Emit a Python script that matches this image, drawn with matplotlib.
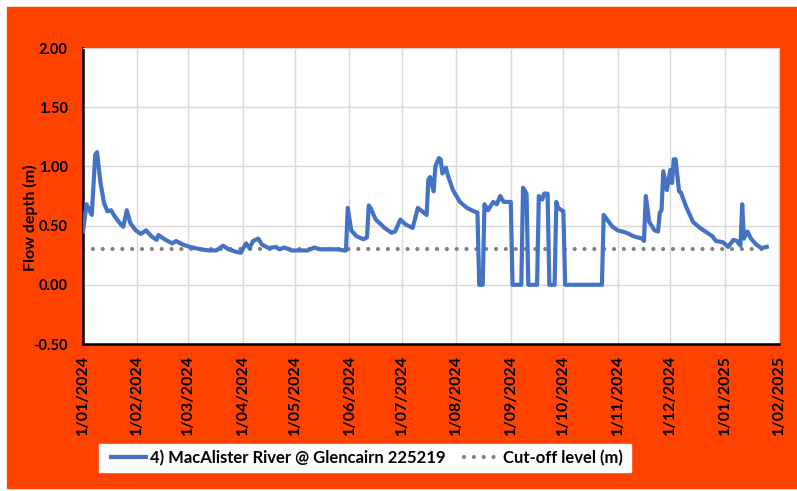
import matplotlib.pyplot as plt
import matplotlib.patches as patches
import numpy as np

# flow depth readings: day offset from 1/01/2024 and depth (m)
day_offsets = [0, 2, 5, 7, 8, 10, 12, 14, 16, 18, 21, 23, 25, 27, 30, 33, 36, 39, 42, 43,
               47, 51, 53, 57, 61, 67, 72, 76, 80, 83, 87, 90, 93, 95, 97, 100, 102, 106,
               110, 112, 115, 119, 124, 128, 132, 135, 140, 145, 149, 150, 151, 153, 156,
               160, 162, 163, 164, 167, 170, 172, 176, 178, 181, 184, 188, 191, 196, 197,
               198, 200, 201, 203, 204, 205, 207, 208, 211, 215, 219, 223, 225, 226, 228,
               229, 231, 234, 236, 238, 240, 244, 245, 250, 251, 253, 254, 259, 260, 262,
               263, 265, 266, 269, 270, 271, 274, 275, 296, 297, 302, 305, 310, 314, 319,
               320, 321, 323, 326, 328, 329, 330, 331, 333, 335, 336, 337, 338, 340, 341,
               344, 348, 352, 356, 359, 361, 365, 368, 371, 373, 375, 376, 377, 379, 381,
               384, 387, 390]
depth = [0.45, 0.68, 0.59, 1.10, 1.12, 0.86, 0.69, 0.62, 0.63, 0.58, 0.52, 0.49, 0.63, 0.52,
         0.46, 0.43, 0.46, 0.41, 0.38, 0.42, 0.38, 0.35, 0.37, 0.34, 0.32, 0.30, 0.29, 0.29,
         0.33, 0.30, 0.28, 0.27, 0.35, 0.31, 0.37, 0.39, 0.34, 0.31, 0.32, 0.30, 0.315, 0.29,
         0.29, 0.29, 0.315, 0.30, 0.30, 0.30, 0.29, 0.29, 0.65, 0.46, 0.41, 0.385, 0.40, 0.67,
         0.65, 0.55, 0.51, 0.48, 0.44, 0.45, 0.55, 0.51, 0.48, 0.65, 0.59, 0.89, 0.91, 0.79,
         1.00, 1.07, 1.06, 0.94, 0.99, 0.93, 0.80, 0.70, 0.65, 0.62, 0.61, 0.0, 0.0, 0.68,
         0.63, 0.70, 0.68, 0.75, 0.70, 0.70, 0.0, 0.0, 0.82, 0.77, 0.0, 0.0, 0.75, 0.72, 0.77,
         0.77, 0.0, 0.0, 0.70, 0.65, 0.62, 0.0, 0.0, 0.59, 0.49, 0.46, 0.44, 0.41, 0.39, 0.37,
         0.75, 0.53, 0.46, 0.45, 0.61, 0.63, 0.96, 0.80, 0.97, 0.86, 1.06, 1.06, 0.79, 0.78,
         0.66, 0.53, 0.48, 0.44, 0.41, 0.37, 0.36, 0.32, 0.38, 0.37, 0.33, 0.68, 0.39, 0.45,
         0.39, 0.34, 0.31, 0.32]
cutoff = 0.30

tick_dates = ['2024-01-01', '2024-02-01', '2024-03-01', '2024-04-01', '2024-05-01',
              '2024-06-01', '2024-07-01', '2024-08-01', '2024-09-01', '2024-10-01',
              '2024-11-01', '2024-12-01', '2025-01-01', '2025-02-01']
tick_labels = ['1/01/2024', '1/02/2024', '1/03/2024', '1/04/2024', '1/05/2024',
               '1/06/2024', '1/07/2024', '1/08/2024', '1/09/2024', '1/10/2024',
               '1/11/2024', '1/12/2024', '1/01/2025', '1/02/2025']
y_ticks = [-0.5, 0.0, 0.5, 1.0, 1.5, 2.0]

series_name = '4) MacAlister River @ Glencairn 225219'
cutoff_name = 'Cut-off level (m)'

plt.rcParams['font.family'] = ['Lato', 'DejaVu Sans']
plt.rcParams['font.weight'] = 'bold'

W, H = 797, 491
fig = plt.figure(figsize=(W / 100, H / 100), dpi=100, facecolor='white')
bg = patches.Rectangle((7 / W, 3 / H), 1 - 7 / W, 1 - 10 / H,
                       transform=fig.transFigure, color='#FF4200', zorder=-10)
fig.patches.append(bg)
# white legend box
legbox = patches.Rectangle((99 / W, 1 - 472 / H), (631 - 99) / W, 28 / H,
                           transform=fig.transFigure, color='white', zorder=-5)
fig.patches.append(legbox)

ax = fig.add_axes([83 / W, 1 - 344 / H, (779 - 83) / W, (344 - 48) / H])
ax.set_facecolor('white')

start = np.datetime64('2024-01-01')
dates = start + np.array(day_offsets).astype('timedelta64[D]')

ax.plot(dates, depth, color='#4472C4', lw=3.0, solid_joinstyle='round', label=series_name, zorder=3)
ax.plot([dates[0], dates[-1]], [cutoff, cutoff], color='#808080', lw=3.0,
        dashes=(0.01, 2.35), dash_capstyle='round', label=cutoff_name, zorder=2)

ticks = np.array(tick_dates, dtype='datetime64[D]')
ax.set_xlim(ticks[0], ticks[-1])
ax.set_ylim(-0.5, 2.0)
ax.set_xticks(ticks)
ax.set_xticklabels(tick_labels, rotation=90, fontsize=11.5, fontweight='bold')
ax.set_yticks(y_ticks)
ax.set_yticklabels(['%.2f' % v for v in y_ticks], fontsize=10.5, fontweight='bold')
ax.tick_params(axis='both', length=0)
ax.tick_params(axis='x', pad=8)
ax.tick_params(axis='y', pad=11)
ax.grid(True, color='#D9D9D9', lw=1)
ax.set_axisbelow(True)

for s in ['top', 'right']:
    ax.spines[s].set_color('#D0D0D0')
    ax.spines[s].set_linewidth(0.8)
for s in ['left', 'bottom']:
    ax.spines[s].set_color('black')
    ax.spines[s].set_linewidth(1.8)

ax.set_ylabel('Flow depth (m)', fontsize=11.5, fontweight='bold')
ax.yaxis.set_label_coords(-45 / (779 - 83), (344 - 218) / (344 - 48))

leg = fig.legend(loc='center', bbox_to_anchor=(367 / W, 1 - 458 / H), ncol=2,
                 fontsize=12, frameon=False, handlelength=2.1, columnspacing=1.15,
                 handletextpad=0.2, borderpad=0.2)
for t in leg.get_texts():
    t.set_fontweight('bold')

fig.savefig('out.png', dpi=100, facecolor='white')
